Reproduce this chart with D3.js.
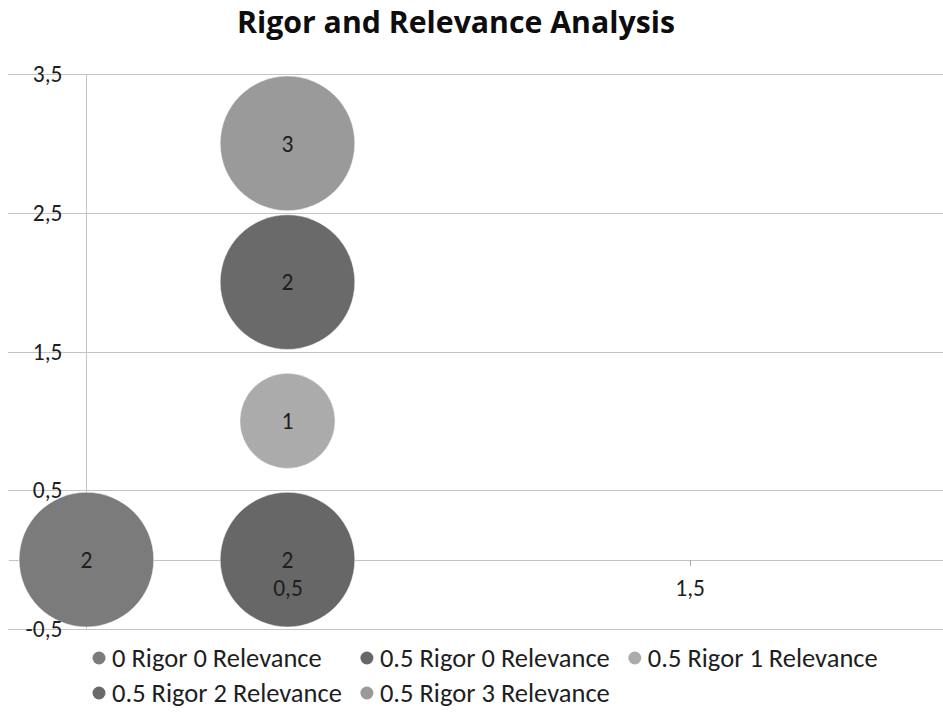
<!DOCTYPE html>
<html>
<head>
<meta charset="utf-8">
<script src="https://cdn.jsdelivr.net/npm/d3@7"></script>
<style>
  body { margin: 0; background: #ffffff; }
  svg { display: block; }
</style>
</head>
<body>
<svg id="chart" width="943" height="715"></svg>
<script>
// ---- data ----
const seriesNames = [
  "0 Rigor 0 Relevance",
  "0.5 Rigor 0 Relevance",
  "0.5 Rigor 1 Relevance",
  "0.5 Rigor 2 Relevance",
  "0.5 Rigor 3 Relevance"
];
const rigor = [0, 0.5, 0.5, 0.5, 0.5];        // x
const relevance = [0, 0, 1, 2, 3];            // y
const counts = [2, 2, 1, 2, 3];               // bubble size / label
const seriesColors = ["#7b7b7b", "#676767", "#ababab", "#6a6a6a", "#9a9a9a"];
const yTicks = [-0.5, 0.5, 1.5, 2.5, 3.5];
const xTicks = [0.5, 1.5];
const titleText = "Rigor and Relevance Analysis";

// ---- layout ----
const W = 943, H = 715;
const plot = { left: 8, right: 943, top: 74, bottom: 629 };
const FONT = "Carlito, Calibri, Lato, 'Open Sans', sans-serif";
const TITLE_FONT = "'Open Sans', Lato, sans-serif";
const gridColor = "#c4c4c4";
const textColor = "#1e1e1e";

const svg = d3.select("#chart");

const x = d3.scaleLinear().domain([-0.195, 2.13]).range([plot.left, plot.right]);
const y = d3.scaleLinear().domain([-0.5, 3.5]).range([plot.bottom, plot.top]);
// bubble area scale; sizes above 2 are held at the largest bubble radius
const r = d3.scaleSqrt().domain([0, 2]).range([0, 67.3]).clamp(true);

const locale = d3.formatLocale({ decimal: ",", thousands: ".", grouping: [3], currency: ["", ""], minus: "-" });
const fmt = locale.format(".1f");

// fit a font size so a string spans a target width
function fitSize(text, target, family, weight, base) {
  const t = svg.append("text").attr("font-family", family).attr("font-weight", weight)
    .attr("font-size", base).text(text);
  const w = t.node().getComputedTextLength();
  t.remove();
  return base * target / w;
}

// ---- gridlines ----
svg.append("g")
  .attr("transform", `translate(${plot.left},0)`)
  .call(d3.axisLeft(y).tickValues(yTicks).tickSize(-(plot.right - plot.left)).tickFormat(""))
  .call(g => g.select(".domain").remove())
  .call(g => g.selectAll(".tick line").attr("stroke", gridColor).attr("shape-rendering", "crispEdges"));

// ---- axis lines (under the bubbles) ----
svg.append("g")
  .attr("transform", `translate(${x(0)},0)`)
  .call(d3.axisLeft(y).tickValues(yTicks).tickSize(0).tickSizeOuter(0).tickFormat(""))
  .call(g => g.select(".domain").attr("stroke", gridColor).attr("shape-rendering", "crispEdges"));

svg.append("g")
  .attr("transform", `translate(0,${y(0)})`)
  .call(d3.axisBottom(x).tickValues(xTicks).tickSize(6).tickSizeOuter(0).tickFormat(""))
  .call(g => g.select(".domain").attr("stroke", gridColor).attr("shape-rendering", "crispEdges"))
  .call(g => g.selectAll(".tick line").attr("stroke", "#a8a8a8").attr("shape-rendering", "crispEdges"));

// ---- bubbles ----
const points = seriesNames.map((name, i) => ({
  name, x: rigor[i], y: relevance[i], size: counts[i], color: seriesColors[i]
}));

const bubbles = svg.append("g").selectAll("g").data(points).join("g");
bubbles.append("circle")
  .attr("cx", d => x(d.x))
  .attr("cy", d => y(d.y))
  .attr("r", d => r(d.size))
  .attr("fill", d => d.color)
  .attr("stroke", "#ffffff")
  .attr("stroke-opacity", 0.6)
  .attr("stroke-width", 0.8);

const labelSize = 23.5;
bubbles.append("text")
  .attr("x", d => x(d.x))
  .attr("y", d => y(d.y))
  .attr("dy", "0.35em")
  .attr("text-anchor", "middle")
  .attr("font-family", FONT)
  .attr("font-size", labelSize)
  .attr("fill", textColor)
  .text(d => d.size);

// ---- axis labels (drawn above the bubbles) ----
svg.append("g")
  .attr("transform", `translate(${x(0)},0)`)
  .call(d3.axisLeft(y).tickValues(yTicks).tickSize(0).tickPadding(24).tickFormat(fmt))
  .call(g => g.select(".domain").remove())
  .call(g => g.selectAll("text").attr("font-family", FONT).attr("font-size", labelSize).attr("fill", textColor));

svg.append("g")
  .attr("transform", `translate(0,${y(0)})`)
  .call(d3.axisBottom(x).tickValues(xTicks).tickSize(0).tickPadding(20).tickFormat(fmt))
  .call(g => g.select(".domain").remove())
  .call(g => g.selectAll("text").attr("font-family", FONT).attr("font-size", labelSize).attr("fill", textColor));

// ---- title ----
const titleSize = fitSize(titleText, 438, TITLE_FONT, "bold", 26);
svg.append("text")
  .attr("x", 456)
  .attr("y", 33)
  .attr("text-anchor", "middle")
  .attr("font-family", TITLE_FONT)
  .attr("font-weight", "bold")
  .attr("font-size", titleSize)
  .attr("fill", "#0d0d0d")
  .text(titleText);

// ---- legend ----
const legendSize = fitSize(seriesNames[2], 230, FONT, "normal", 20);
const nCols = 3, rowY = [658, 693], markerR = 6.5, textGap = 13, colGap = 25;
const measure = s => {
  const t = svg.append("text").attr("font-family", FONT).attr("font-size", legendSize).text(s);
  const w = t.node().getComputedTextLength(); t.remove(); return w;
};
const widths = seriesNames.map(measure);
const colX = [99];
for (let c = 1; c < nCols; c++) {
  const prev = d3.max(widths.filter((_, i) => i % nCols === c - 1));
  colX.push(colX[c - 1] + textGap + prev + colGap);
}
const legend = svg.append("g").selectAll("g").data(points).join("g")
  .attr("transform", (d, i) => `translate(${colX[i % nCols]},${rowY[Math.floor(i / nCols)]})`);
legend.append("circle").attr("r", markerR).attr("fill", d => d.color);
legend.append("text")
  .attr("x", textGap)
  .attr("dy", "0.35em")
  .attr("font-family", FONT)
  .attr("font-size", legendSize)
  .attr("fill", textColor)
  .text(d => d.name);
</script>
</body>
</html>
